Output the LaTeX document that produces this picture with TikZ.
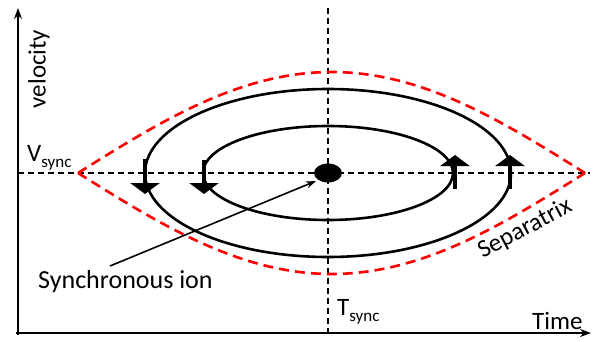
\documentclass[tikz,border=0pt]{standalone}
\usepackage{fontspec}
\setmainfont{Carlito}
\usetikzlibrary{arrows.meta}
\newcommand{\mysub}[1]{\raisebox{-6pt}{\fontsize{17}{19}\selectfont #1}}
\begin{document}
\begin{tikzpicture}[x=1pt,y=-1pt,
  axis/.style={line width=2pt,-{Stealth[length=11pt,width=8pt]}},
  guide/.style={line width=1.8pt,dash pattern=on 6pt off 4pt},
  sep/.style={red,line width=2.6pt,dash pattern=on 10pt off 6pt},
  orbit/.style={line width=2.6pt},
  flow/.style={line width=4pt,-{Triangle[width=29pt,length=11pt]}},
  lbl/.style={font=\fontsize{25}{28}\selectfont,inner sep=0pt}]
\useasboundingbox (0,0) rectangle (594,342);
% axes
\coordinate (O) at (18,335);
\coordinate (ytop) at (18,8);
\coordinate (xend) at (591,333);
\draw[axis] (O) -- (ytop);
\draw[axis] (16,333) -- (xend);
% guide lines
\coordinate (c) at (328,173);
\draw[guide] (18,173) -- (590,173);
\draw[guide] (328,8) -- (328,333);
% separatrix
\draw[sep] plot[domain=78:585,samples=80] (\x,{173-101*cos((\x-331.5)*0.35503)});
\draw[sep] plot[domain=78:585,samples=80] (\x,{173+101*cos((\x-331.5)*0.35503)});
% orbits
\draw[orbit] (c) ellipse [x radius=183, y radius=84];
\draw[orbit] (c) ellipse [x radius=125, y radius=47];
% flow arrows
\draw[flow] (145,159) -- (145,194);
\draw[flow] (204,160) -- (204,194);
\draw[flow] (455,189) -- (455,155);
\draw[flow] (510,189) -- (510,155);
% synchronous ion
\fill (c) ellipse [x radius=14, y radius=9.5];
\node[lbl,font=\fontsize{26}{29}\selectfont,anchor=base west] (sion) at (38,288) {Synchronous ion};
\coordinate (s0) at (110,266);
\coordinate (ion) at (316,181);
\draw[line width=1.6pt,-{Stealth[length=10pt,width=7pt]}] (s0) -- (ion);
% labels
\node[lbl,rotate=90] (vel) at (39,69) {velocity};
\node[lbl,anchor=base west] (vs) at (27,161) {V\mysub{sync}};
\node[lbl,anchor=base west] (ts) at (337,315) {T\mysub{sync}};
\node[lbl,anchor=base west] (tm) at (532,329) {Time};
\node[lbl,rotate=28] (sp) at (525,229) {Separatrix};
\end{tikzpicture}
\end{document}
